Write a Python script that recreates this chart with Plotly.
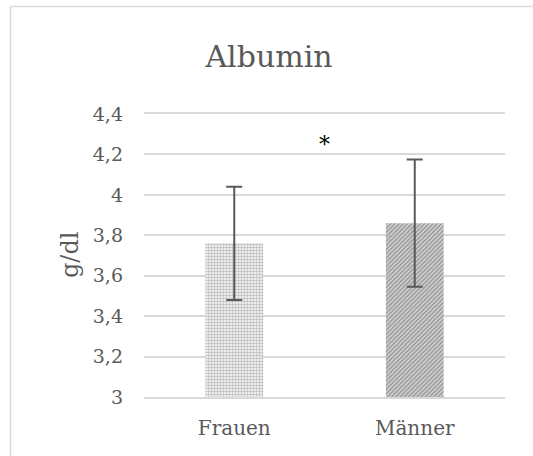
import plotly.graph_objects as go

categories = ["Frauen", "Männer"]
means = [3.76, 3.86]
errors = [0.28, 0.315]
tick_vals = [3.0, 3.2, 3.4, 3.6, 3.8, 4.0, 4.2, 4.4]
tick_labels = ["3", "3,2", "3,4", "3,6", "3,8", "4", "4,2", "4,4"]
title_text = "Albumin"
y_title = "g/dl"
sig_marker = "*"

FONT = "DejaVu Serif"
GREY = "#595959"

W, H = 533, 456
L, R, T, B = 144, 28, 114, 59
pw, ph = W - L - R, H - T - B

def px_x(p):
    return (p - L) / pw

def px_y(p):
    return (H - B - p) / ph

fig = go.Figure()
patterns = [
    dict(shape=".", size=3, solidity=0.6, fgcolor="#7a7a7a", bgcolor="#ffffff"),
    dict(shape="/", size=3, solidity=0.5, fgcolor="#5a5a5a", bgcolor="#d4d4d4"),
]
for i, c in enumerate(categories):
    fig.add_trace(go.Bar(
        x=[c], y=[means[i]], base=0,
        marker=dict(color="#ffffff", line=dict(width=0), pattern=patterns[i]),
        error_y=dict(type="data", array=[errors[i]], color=GREY, thickness=2, width=8),
        showlegend=False,
    ))

fig.update_layout(
    width=W, height=H,
    margin=dict(l=L, r=R, t=T, b=B),
    paper_bgcolor="white", plot_bgcolor="white",
    bargap=0.68,
    barmode="overlay",
    font=dict(family=FONT, color=GREY, size=19),
    title=dict(text=title_text, x=269 / W, xanchor="center", y=1 - 56 / H, yanchor="middle",
               font=dict(family=FONT, size=30, color=GREY)),
    xaxis=dict(showgrid=False, showline=True, mirror=True, linecolor="#d9d9d9", linewidth=1.5,
               ticks="", ticklabelstandoff=12, tickfont=dict(size=20, color=GREY)),
    yaxis=dict(range=[3, 4.4], tickvals=tick_vals, ticktext=tick_labels, showgrid=True,
               gridcolor="#d9d9d9", gridwidth=1.5, showline=False, zeroline=False, ticks="",
               ticklabelstandoff=20, tickfont=dict(size=19, color=GREY)),
    annotations=[
        dict(text=y_title, textangle=-90, xref="paper", yref="paper", x=px_x(70), y=px_y(255),
             xanchor="center", yanchor="middle", showarrow=False, font=dict(size=24, color=GREY, family=FONT)),
        dict(text=sig_marker, xref="x", yref="y", x=0.5, y=4.25, xanchor="center", yanchor="middle",
             showarrow=False, font=dict(size=22, color="#000000", family=FONT)),
    ],
    shapes=[
        dict(type="line", xref="paper", yref="paper", x0=px_x(10.5), x1=px_x(10.5), y0=px_y(6.5), y1=-1,
             line=dict(color="#d9d9d9", width=1.5), layer="below"),
        dict(type="line", xref="paper", yref="paper", x0=px_x(10.5), x1=2, y0=px_y(6.5), y1=px_y(6.5),
             line=dict(color="#d9d9d9", width=1.5), layer="below"),
    ],
)
fig.write_html("out.html")
